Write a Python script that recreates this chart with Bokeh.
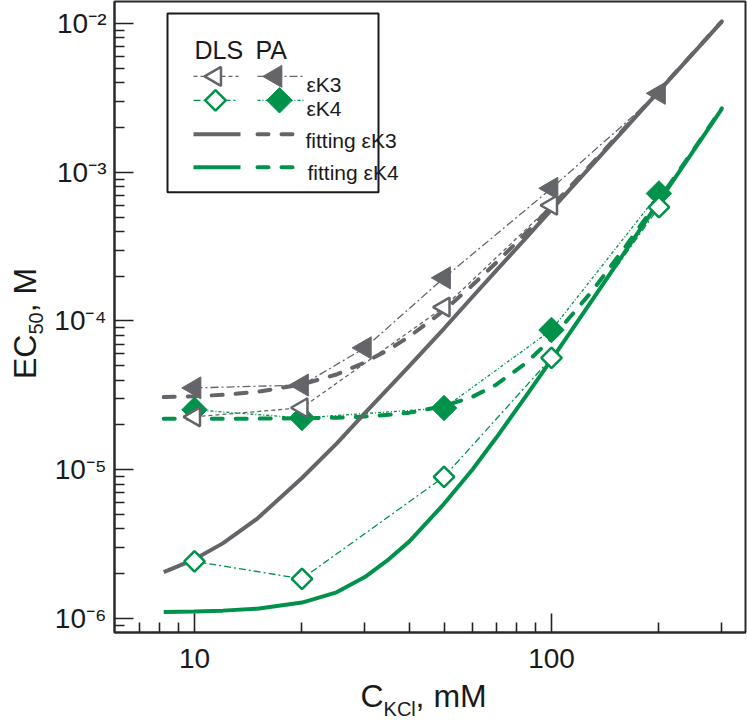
import math
from bokeh.plotting import figure
from bokeh.models import (FixedTicker, CustomJSTickFormatter, Label, BoxAnnotation,
                          ColumnDataSource, Range1d, LogAxis)
from bokeh.embed import file_html
from bokeh.resources import INLINE

# ---------------- data ----------------
conc_k3_dls = [10, 20, 50, 100]
ec50_k3_dls = [2.27e-5, 2.61e-5, 1.24e-4, 6.0e-4]
conc_k3_pa = [10, 20, 30, 50, 100, 200]
ec50_k3_pa = [3.55e-5, 3.71e-5, 6.6e-5, 1.95e-4, 7.8e-4, 3.39e-3]
conc_k4_dls = [10, 20, 50, 100, 200]
ec50_k4_dls = [2.42e-6, 1.85e-6, 8.97e-6, 5.65e-5, 5.82e-4]
conc_k4_pa = [10, 20, 50, 100, 200]
ec50_k4_pa = [2.53e-5, 2.23e-5, 2.6e-5, 8.7e-5, 7.2e-4]

fit_conc = [8.2, 10, 12, 15, 20, 25, 30, 35, 40, 50, 60, 70, 85, 100, 130, 160, 200, 250, 300]
fit_k3_dls = [2.05e-6, 2.5e-6, 3.2e-6, 4.7e-6, 8.8e-6, 1.5e-5, 2.4e-5, 3.55e-5, 5.0e-5,
              8.9e-5, 1.45e-4, 2.18e-4, 3.63e-4, 5.6e-4, 1.12e-3, 1.94e-3, 3.51e-3, 6.34e-3, 1.03e-2]
fit_k3_pa = [3.08e-5, 3.12e-5, 3.19e-5, 3.34e-5, 3.75e-5, 4.37e-5, 5.27e-5, 6.42e-5, 7.87e-5,
             1.177e-4, 1.737e-4, 2.467e-4, 3.917e-4, 5.887e-4, 1.149e-3, 1.969e-3, 3.539e-3, 6.369e-3, 1.033e-2]
fit_k4_dls = [1.108e-6, 1.115e-6, 1.13e-6, 1.165e-6, 1.28e-6, 1.5e-6, 1.9e-6, 2.5e-6, 3.3e-6,
              5.9e-6, 1.0e-5, 1.64e-5, 3.15e-5, 5.5e-5, 1.38e-4, 2.88e-4, 6.34e-4, 1.397e-3, 2.67e-3]
fit_k4_pa = [2.200e-5, 2.201e-5, 2.203e-5, 2.206e-5, 2.218e-5, 2.24e-5, 2.28e-5, 2.34e-5, 2.42e-5,
             2.68e-5, 3.09e-5, 3.73e-5, 5.24e-5, 7.59e-5, 1.59e-4, 3.09e-4, 6.55e-4, 1.418e-3, 2.69e-3]

x_major_ticks = [10, 100]
x_minor_ticks = [7, 8, 9, 20, 30, 40, 50, 60, 70, 80, 90, 200, 300]
y_major_ticks = [1e-6, 1e-5, 1e-4, 1e-3, 1e-2]
y_minor_ticks = [m * 10.0 ** e for e in range(-7, -1) for m in range(2, 10)]

legend_header = ["DLS", "PA"]
legend_labels = ["\u03b5K3", "\u03b5K4", "fitting \u03b5K3", "fitting \u03b5K4"]
x_title = ["C", "KCl", ", mM"]
y_title = ["EC", "50", ", M"]

GRAY = "#646569"
GREEN = "#00924a"
FONT = "Liberation Sans"
INK = "#1a1a1a"


# picture-pixel -> data helpers (used only to place legend / title pieces)
def px2x(px):
    return 10 ** (1 + (px - 194) / 357.0)


def px2y(py):
    return 10 ** (-2 - (py - 23) / 149.0)


p = figure(width=747, height=722, x_axis_type="log", y_axis_type="log",
           x_range=Range1d(px2x(114), px2x(745)), y_range=Range1d(px2y(633), px2y(1)),
           min_border_left=114, min_border_right=2, min_border_top=1, min_border_bottom=89,
           output_backend="svg", toolbar_location=None)
p.xgrid.visible = False
p.ygrid.visible = False
p.background_fill_color = "white"
p.border_fill_color = "white"
p.outline_line_color = "#2a2a2a"
p.outline_line_width = 2
p.outline_line_alpha = 1

p.xaxis.ticker = FixedTicker(ticks=x_major_ticks, minor_ticks=x_minor_ticks)
p.yaxis.ticker = FixedTicker(ticks=y_major_ticks, minor_ticks=y_minor_ticks)
p.xaxis.formatter = CustomJSTickFormatter(code="return String(Math.round(tick));")
p.yaxis.formatter = CustomJSTickFormatter(code="""
const sup = {"-": "\u207b", "0": "\u2070", "1": "\u00b9", "2": "\u00b2", "3": "\u00b3",
             "4": "\u2074", "5": "\u2075", "6": "\u2076", "7": "\u2077", "8": "\u2078", "9": "\u2079"};
const e = Math.round(Math.log10(tick));
return "10" + String(e).split("").map(c => sup[c]).join("");
""")
for ax in (p.xaxis[0], p.yaxis[0]):
    ax.axis_line_color = "#2a2a2a"
    ax.axis_line_width = 2
    ax.major_tick_in = 19
    ax.major_tick_out = 0
    ax.minor_tick_in = 10
    ax.minor_tick_out = 0
    ax.major_tick_line_color = "#222222"
    ax.minor_tick_line_color = "#222222"
    ax.major_tick_line_width = 1.6
    ax.minor_tick_line_width = 1.6
    ax.major_label_text_font = FONT
    ax.major_label_text_font_size = "28px"
    ax.major_label_text_color = INK
    ax.axis_label_text_font = FONT
    ax.axis_label_text_font_size = "32px"
    ax.axis_label_text_font_style = "normal"
    ax.axis_label_text_color = INK
p.xaxis.major_label_standoff = 16
p.yaxis.major_label_standoff = 8

# axis titles: main text on the axes, subscripts as labels of bare extra axes
p.xaxis.axis_label = x_title[0] + "\u2003" + x_title[2] + "\u2009\u2009"
p.xaxis.axis_label_standoff = 7
p.yaxis.axis_label = y_title[0] + "\u2002\u2009" + y_title[2] + "\u2009\u2009"
p.yaxis.axis_label_standoff = 8


def sub_axis(ticks, text, standoff, **kw):
    ax = LogAxis(ticker=FixedTicker(ticks=ticks, minor_ticks=[]),
                 formatter=CustomJSTickFormatter(args=dict(t=text), code="return t;"), **kw)
    ax.axis_line_color = None
    ax.major_tick_line_color = None
    ax.minor_tick_line_color = None
    ax.major_tick_in = 0
    ax.major_tick_out = 0
    ax.major_label_standoff = standoff
    ax.major_label_text_font = FONT
    ax.major_label_text_font_size = "20px"
    ax.major_label_text_color = INK
    return ax


p.add_layout(sub_axis([px2x(399.2)], x_title[1], -19), "below")
p.add_layout(sub_axis([px2y(323.5)], y_title[1], -39, major_label_orientation="vertical"), "left")

# ---------------- fitted curves ----------------
fit_src = ColumnDataSource(dict(x=fit_conc, k3d=fit_k3_dls, k3p=fit_k3_pa, k4d=fit_k4_dls, k4p=fit_k4_pa))
FIT_DASH = "11 13"
p.line("x", "k3p", source=fit_src, line_color=GRAY, line_width=4, line_dash=FIT_DASH, line_cap="round")
p.line("x", "k4p", source=fit_src, line_color=GREEN, line_width=4, line_dash=FIT_DASH, line_cap="round")
p.line("x", "k3d", source=fit_src, line_color=GRAY, line_width=4)
p.line("x", "k4d", source=fit_src, line_color=GREEN, line_width=4)

# ---------------- measured series ----------------
s_k3d = ColumnDataSource(dict(x=conc_k3_dls, y=ec50_k3_dls))
s_k3p = ColumnDataSource(dict(x=conc_k3_pa, y=ec50_k3_pa))
s_k4d = ColumnDataSource(dict(x=conc_k4_dls, y=ec50_k4_dls))
s_k4p = ColumnDataSource(dict(x=conc_k4_pa, y=ec50_k4_pa))

DASH_K3D = "4 3"
DASH_K3P = "8 3 2 3"
DASH_K4D = "7 3 2 3"
DASH_K4P = "3 2 1 2"

p.line("x", "y", source=s_k3d, line_color=GRAY, line_width=1.3, line_dash=DASH_K3D)
p.line("x", "y", source=s_k3p, line_color=GRAY, line_width=1.3, line_dash=DASH_K3P)
p.line("x", "y", source=s_k4d, line_color=GREEN, line_width=1.3, line_dash=DASH_K4D)
p.line("x", "y", source=s_k4p, line_color=GREEN, line_width=1.3, line_dash=DASH_K4P)

TRI = dict(marker="triangle", angle=math.pi / 2)
SQ = dict(marker="square", angle=math.pi / 4)
p.scatter("x", "y", source=s_k4p, size=18, fill_color=GREEN, line_color=GREEN, line_width=1, **SQ)
p.scatter("x", "y", source=s_k4d, size=14.5, fill_color="white", line_color=GREEN, line_width=2.5, **SQ)
p.scatter("x", "y", source=s_k3p, size=22, fill_color=GRAY, line_color=GRAY, line_width=1, **TRI)
p.scatter("x", "y", source=s_k3d, size=19, fill_color="white", line_color=GRAY, line_width=2.5, **TRI)

# ---------------- legend (hand-built, two marker columns) ----------------
p.add_layout(BoxAnnotation(left=px2x(167), right=px2x(378), top=px2y(13), bottom=px2y(192),
                           fill_color="white", fill_alpha=1, line_color=INK, line_alpha=1,
                           line_width=2, level="underlay"))

row_y = [76, 100, 134, 167]
dls_seg = [193, 238]
pa_seg = [257, 303]
dls_mark = 215
pa_mark = 279


def seg(xs, py):
    return dict(x=[px2x(xs[0]), px2x(xs[1])], y=[px2y(py), px2y(py)])


p.line(**seg(dls_seg, row_y[0]), line_color=GRAY, line_width=1.3, line_dash=DASH_K3D)
p.line(**seg(pa_seg, row_y[0]), line_color=GRAY, line_width=1.3, line_dash=DASH_K3P)
p.line(**seg(dls_seg, row_y[1]), line_color=GREEN, line_width=1.3, line_dash=DASH_K4D)
p.line(**seg(pa_seg, row_y[1]), line_color=GREEN, line_width=1.3, line_dash=DASH_K4P)
p.scatter([px2x(dls_mark)], [px2y(row_y[0])], size=19, fill_color="white", line_color=GRAY, line_width=2.5, **TRI)
p.scatter([px2x(pa_mark - 4)], [px2y(row_y[0])], size=22, fill_color=GRAY, line_color=GRAY, line_width=1, **TRI)
p.scatter([px2x(dls_mark)], [px2y(row_y[1])], size=14.5, fill_color="white", line_color=GREEN, line_width=2.5, **SQ)
p.scatter([px2x(pa_mark)], [px2y(row_y[1])], size=18, fill_color=GREEN, line_color=GREEN, line_width=1, **SQ)
p.line(**seg([193, 240], row_y[2]), line_color=GRAY, line_width=4)
p.line(**seg(pa_seg, row_y[2]), line_color=GRAY, line_width=4, line_dash=FIT_DASH, line_cap="round")
p.line(**seg([193, 240], row_y[3]), line_color=GREEN, line_width=4)
p.line(**seg(pa_seg, row_y[3]), line_color=GREEN, line_width=4, line_dash=FIT_DASH, line_cap="round")


def lab(text, px, py, size):
    p.add_layout(Label(x=px2x(px), y=px2y(py), text=text, text_font=FONT, text_font_size=size,
                       text_color=INK, text_align="left", text_baseline="alphabetic"))


lab(legend_header[0], 194, 50, "25px")
lab(legend_header[1], 255, 50, "25px")
lab(legend_labels[0], 306, 84, "21px")
lab(legend_labels[1], 306, 108, "21px")
lab(legend_labels[2], 305, 140, "21px")
lab(legend_labels[3], 307, 172, "21px")

open("out.html", "w").write(file_html(p, INLINE))
